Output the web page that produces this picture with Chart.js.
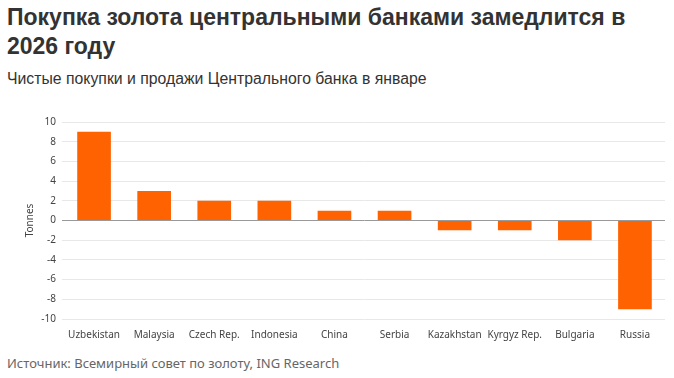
<!DOCTYPE html>
<html>
<head>
<meta charset="utf-8">
<script src="https://cdn.jsdelivr.net/npm/chart.js@4"></script>
<style>
  body { margin: 0; background: #fff; font-family: "Liberation Sans", Arial, sans-serif; }
  #wrap { position: relative; width: 674px; height: 378px; }
  h1 { position: absolute; left: 7px; top: 3px; margin: 0; width: 660px; font-size: 23px; line-height: 29px; font-weight: bold; color: #333; }
  .sub { position: absolute; left: 7px; top: 70px; font-size: 15.8px; color: #333; }
  .src { position: absolute; left: 7px; top: 354px; font-size: 13px; color: #666; font-family: "Noto Sans", sans-serif; }
  #box { position: absolute; left: 0; top: 110px; width: 674px; height: 233px; }
</style>
</head>
<body>
<div id="wrap">
  <h1>Покупка золота центральными банками замедлится в 2026 году</h1>
  <div class="sub">Чистые покупки и продажи Центрального банка в январе</div>
  <div id="box"><canvas id="goldChart"></canvas></div>
  <div class="src">Источник: Всемирный совет по золоту, ING Research</div>
</div>
<script>
var countries = ['Uzbekistan', 'Malaysia', 'Czech Rep.', 'Indonesia', 'China', 'Serbia', 'Kazakhstan', 'Kyrgyz Rep.', 'Bulgaria', 'Russia'];
var tonnes = [9, 3, 2, 2, 1, 1, -1, -1, -2, -9];

var ctx = document.getElementById('goldChart').getContext('2d');
var goldChart = new Chart(ctx, {
    type: 'bar',
    data: {
        labels: countries,
        datasets: [{
            label: 'Tonnes',
            data: tonnes,
            backgroundColor: '#ff6200',
            borderWidth: 0,
            categoryPercentage: 1,
            barPercentage: 0.56
        }]
    },
    options: {
        responsive: true,
        maintainAspectRatio: false,
        animation: false,
        layout: { padding: { top: 6, right: 9, left: 24, bottom: 0 } },
        plugins: { legend: { display: false }, tooltip: { enabled: false } },
        scales: {
            x: {
                grid: { display: false },
                border: { display: false },
                ticks: { color: '#444', font: { family: 'Noto Sans', size: 10 }, maxRotation: 0, autoSkip: false, padding: 2 }
            },
            y: {
                min: -10,
                max: 10,
                afterFit: function (scale) { scale.width = 40; },
                ticks: { stepSize: 2, color: '#444', font: { family: 'Noto Sans', size: 10 }, padding: 6 },
                border: { display: false },
                grid: {
                    drawTicks: true,
                    tickLength: 2,
                    color: function (c) { return c.tick && c.tick.value === 0 ? '#999' : '#e8e8e8'; },
                    lineWidth: 1
                },
                title: { display: true, text: 'Tonnes', color: '#444', font: { family: 'Noto Sans', size: 10 }, padding: 0 }
            }
        }
    }
});
</script>
</body>
</html>
